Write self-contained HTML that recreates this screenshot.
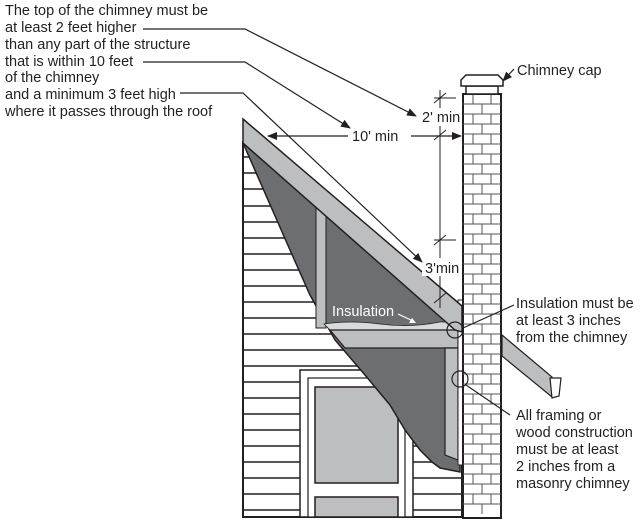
<!DOCTYPE html>
<html><head><style>
html,body{margin:0;padding:0;background:#fff;}
svg{display:block;}
text{font-family:"Liberation Sans",Arial,sans-serif;font-size:14.5px;fill:#231f20;}
</style></head><body>
<svg width="640" height="523" viewBox="0 0 640 523" xmlns="http://www.w3.org/2000/svg">
<defs>
<marker id="ar" markerWidth="10" markerHeight="8" refX="9" refY="4" orient="auto" markerUnits="userSpaceOnUse">
<path d="M0,0 L10,4 L0,8 z" fill="#231f20"/></marker>
<clipPath id="wall"><path d="M243,143 L462,332 L462,518 L243,518 Z"/></clipPath>
</defs>
<!-- siding wall -->
<path d="M243,143 L462,332 L462,517 L243,517 Z" fill="#fff" stroke="#231f20" stroke-width="2"/>
<g stroke="#231f20" stroke-width="1.5" clip-path="url(#wall)">
<line x1="243" y1="157" x2="463" y2="157"/><line x1="243" y1="173" x2="463" y2="173"/>
<line x1="243" y1="189" x2="463" y2="189"/><line x1="243" y1="206" x2="463" y2="206"/>
<line x1="243" y1="222" x2="463" y2="222"/><line x1="243" y1="238" x2="463" y2="238"/>
<line x1="243" y1="254" x2="463" y2="254"/><line x1="243" y1="270" x2="463" y2="270"/>
<line x1="243" y1="286" x2="463" y2="286"/><line x1="243" y1="302" x2="463" y2="302"/>
<line x1="243" y1="318" x2="463" y2="318"/><line x1="243" y1="334" x2="463" y2="334"/>
<line x1="243" y1="350" x2="463" y2="350"/><line x1="243" y1="366" x2="463" y2="366"/>
<line x1="243" y1="382" x2="463" y2="382"/><line x1="243" y1="398" x2="463" y2="398"/>
<line x1="243" y1="414" x2="463" y2="414"/><line x1="243" y1="430" x2="463" y2="430"/>
<line x1="243" y1="446" x2="463" y2="446"/><line x1="243" y1="462" x2="463" y2="462"/>
<line x1="243" y1="478" x2="463" y2="478"/><line x1="243" y1="494" x2="463" y2="494"/>
<line x1="243" y1="510" x2="463" y2="510"/>
</g>
<line x1="243" y1="517" x2="463" y2="517" stroke="#231f20" stroke-width="2"/>
<!-- window -->
<rect x="300" y="370" width="113" height="147" fill="#fff" stroke="#231f20" stroke-width="1.5"/>
<rect x="308" y="378" width="97" height="139" fill="#fff" stroke="#231f20" stroke-width="1.2"/>
<rect x="315" y="387" width="83" height="96" fill="#bcbec0" stroke="#231f20" stroke-width="1.5"/>
<rect x="315" y="497" width="83" height="20" fill="#bcbec0" stroke="#231f20" stroke-width="1.5"/>
<!-- cutaway dark -->
<path d="M243,143 L290,250 L310,295 L335,340 L365,375 L390,405 L405,430 L420,450 L432,462 L440,468 L460,472 L460,330 Z" fill="#6d6e71" stroke="#231f20" stroke-width="1.5"/>
<!-- stud -->
<rect x="316" y="208" width="10" height="120" fill="#bcbec0" stroke="#231f20" stroke-width="1"/>
<!-- insulation -->
<path d="M324,324 Q350,320 380,324 T440,322 L458,322 L458,330 L330,330 Z" fill="#d9dadb" stroke="#231f20" stroke-width="0.8"/>
<!-- ceiling joist band -->
<path d="M330,330 L458,330 L458,348 L345,348 Z" fill="#bcbec0" stroke="#231f20" stroke-width="1.2"/>
<!-- wall framing right -->
<path d="M445,348 L458,348 L458,460 L445,455 Z" fill="#bcbec0" stroke="#231f20" stroke-width="1.2"/>
<rect x="458" y="300" width="5" height="165" fill="#fff" stroke="#231f20" stroke-width="1"/>
<!-- roof band -->
<path d="M243,119 L462,306 L462,332 L455,330 L243,143 Z" fill="#bcbec0" stroke="#231f20" stroke-width="1.5"/>
<!-- chimney -->
<rect x="463" y="94" width="38" height="424" fill="#fff" stroke="#231f20" stroke-width="2"/>
<g stroke="#555" stroke-width="1">
<path d="M463,104H501M463,114H501M463,124H501M463,134H501M463,144H501M463,154H501M463,164H501M463,174H501M463,184H501M463,194H501M463,204H501M463,214H501M463,224H501M463,234H501M463,244H501M463,254H501M463,264H501M463,274H501M463,284H501M463,294H501M463,304H501M463,314H501M463,324H501M463,334H501M463,344H501M463,354H501M463,364H501M463,374H501M463,384H501M463,394H501M463,404H501M463,414H501M463,424H501M463,434H501M463,444H501M463,454H501M463,464H501M463,474H501M463,484H501M463,494H501M463,504H501"/>
<path d="M473,94V104M491,94V104M482,104V114M473,114V124M491,114V124M482,124V134M473,134V144M491,134V144M482,144V154M473,154V164M491,154V164M482,164V174M473,174V184M491,174V184M482,184V194M473,194V204M491,194V204M482,204V214M473,214V224M491,214V224M482,224V234M473,234V244M491,234V244M482,244V254M473,254V264M491,254V264M482,264V274M473,274V284M491,274V284M482,284V294M473,294V304M491,294V304M482,304V314M473,314V324M491,314V324M482,324V334M473,334V344M491,334V344M482,344V354M473,354V364M491,354V364M482,364V374M473,374V384M491,374V384M482,384V394M473,394V404M491,394V404M482,404V414M473,414V424M491,414V424M482,424V434M473,434V444M491,434V444M482,444V454M473,454V464M491,454V464M482,464V474M473,474V484M491,474V484M482,484V494M473,494V504M491,494V504M482,504V514"/>
</g>
<!-- cap -->
<rect x="466" y="86" width="32" height="8" fill="#fff" stroke="#231f20" stroke-width="1.5"/>
<path d="M461,86 L503,86 L503,80 L498,75 L466,75 L461,80 Z" fill="#fff" stroke="#231f20" stroke-width="1.5"/>
<!-- right eave -->
<path d="M502,335 L552,377 L552,397 L502,356 Z" fill="#bcbec0" stroke="#231f20" stroke-width="1.2"/>
<path d="M550,378 L561,378 L559,396 L552,398 Z" fill="#fff" stroke="#231f20" stroke-width="1.2"/>
<!-- dimension lines -->
<g stroke="#231f20" stroke-width="1">
<line x1="440" y1="90" x2="440" y2="308"/>
<line x1="434" y1="98" x2="456" y2="98"/><line x1="434" y1="103" x2="446" y2="93"/>
<line x1="434" y1="140" x2="446" y2="130"/>
<line x1="434" y1="240" x2="456" y2="240"/><line x1="434" y1="245" x2="446" y2="235"/>
<line x1="434" y1="303" x2="446" y2="293"/>
</g>
<rect x="417" y="108" width="44" height="18" fill="#fff"/>
<rect x="422" y="258" width="39" height="18" fill="#fff"/>
<line x1="348" y1="136" x2="268" y2="136" stroke="#231f20" stroke-width="1.3" marker-end="url(#ar)"/>
<line x1="411" y1="136" x2="461" y2="136" stroke="#231f20" stroke-width="1.3" marker-end="url(#ar)"/>
<rect x="350" y="127" width="58" height="18" fill="#fff"/>
<text x="352" y="141">10' min</text>
<text x="422" y="122">2' min</text>
<text x="425" y="273">3'min</text>
<!-- leaders -->
<polyline points="143,29 245,29 416,116" fill="none" stroke="#231f20" stroke-width="1.2" marker-end="url(#ar)"/>
<polyline points="143,62 245,62 350,128" fill="none" stroke="#231f20" stroke-width="1.2" marker-end="url(#ar)"/>
<polyline points="180,93 243,93 422,262" fill="none" stroke="#231f20" stroke-width="1.2" marker-end="url(#ar)"/>
<line x1="514" y1="69" x2="503" y2="81" stroke="#231f20" stroke-width="1.2" marker-end="url(#ar)"/>
<!-- insulation label -->
<text x="332" y="316" style="fill:#fff">Insulation</text>
<line x1="398" y1="314" x2="413" y2="321" stroke="#fff" stroke-width="1.2"/>
<path d="M416,323 L409,323 L412,318 Z" fill="#fff"/>
<!-- circles -->
<circle cx="455" cy="330" r="8" fill="none" stroke="#231f20" stroke-width="1.2"/>
<line x1="463" y1="328" x2="514" y2="305" stroke="#231f20" stroke-width="1.2"/>
<circle cx="460" cy="379" r="8" fill="none" stroke="#231f20" stroke-width="1.2"/>
<line x1="466" y1="385" x2="510" y2="415" stroke="#231f20" stroke-width="1.2"/>
<!-- texts -->
<text x="5" y="15">The top of the chimney must be</text>
<text x="5" y="32">at least 2 feet higher</text>
<text x="5" y="49">than any part of the structure</text>
<text x="5" y="66">that is within 10 feet</text>
<text x="5" y="82">of the chimney</text>
<text x="5" y="99">and a minimum 3 feet high</text>
<text x="5" y="116">where it passes through the roof</text>
<text x="517" y="75">Chimney cap</text>
<text x="516" y="308">Insulation must be</text>
<text x="516" y="325">at least 3 inches</text>
<text x="516" y="342">from the chimney</text>
<text x="516" y="420">All framing or</text>
<text x="516" y="437">wood construction</text>
<text x="516" y="454">must be at least</text>
<text x="516" y="471">2 inches from a</text>
<text x="516" y="488">masonry chimney</text>
</svg>
</body></html>
